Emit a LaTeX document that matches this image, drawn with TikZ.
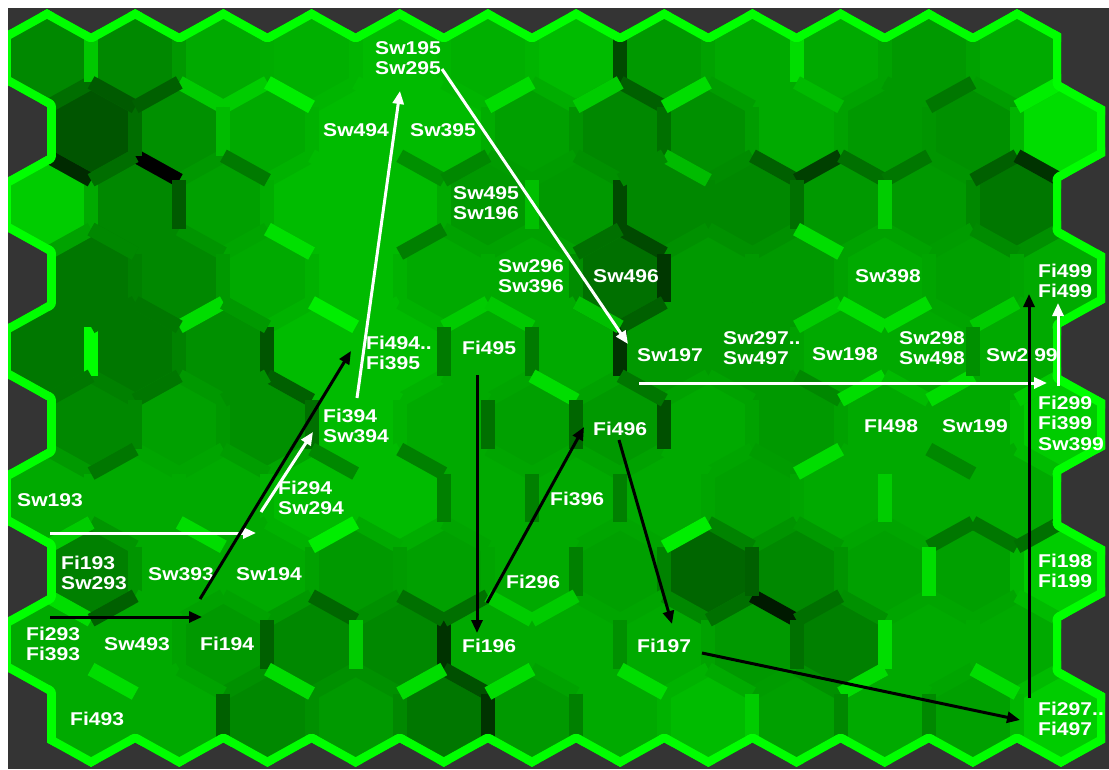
\documentclass[tikz,border=0pt]{standalone}
\usepackage{fontspec}
\setmainfont{Liberation Sans}
\newfontfamily\lblfont[FakeStretch=1.14]{Liberation Sans}
\usetikzlibrary{arrows.meta}
\newcommand\defg[1]{\definecolor{G#1}{HTML}{00#100}}
\defg{00}\defg{1A}\defg{2A}\defg{33}\defg{38}\defg{40}\defg{4A}\defg{50}\defg{55}\defg{5A}
\defg{60}\defg{66}\defg{6E}\defg{70}\defg{77}\defg{7A}\defg{80}\defg{88}\defg{90}\defg{99}
\defg{A0}\defg{AA}\defg{B0}\defg{BB}\defg{C0}\defg{C8}\defg{CC}\defg{DD}\defg{E0}\defg{EE}\defg{FF}
\definecolor{bggray}{HTML}{343434}
\newcommand\setrow[2]{\foreach \cv [count=\ci from 0] in {#2}{\expandafter\xdef\csname cc#1-\ci\endcsname{\cv}}}
\setrow{1}{G88,G88,GAA,GB0,GBB,GB0,GBB,G99,GAA,GAA,G99,GAA}
\setrow{2}{G55,G90,GAA,GBB,GBB,GA0,G88,G90,GAA,G99,G90,GDD}
\setrow{3}{GCC,G88,GA0,GBB,GBB,G99,G99,G88,G88,G99,G99,G77}
\setrow{4}{G77,G88,GAA,GBB,GAA,GAA,G70,G99,G99,GAA,GA0,GAA}
\setrow{5}{G77,G77,G90,GBB,GBB,GAA,GAA,G99,G99,GAA,GAA,GAA}
\setrow{6}{G88,GA0,G90,GBB,GAA,GA0,G99,GAA,G99,GAA,GAA,GCC}
\setrow{7}{GAA,GAA,GAA,GBB,GBB,GAA,GAA,GAA,GA0,GAA,GAA,GAA}
\setrow{8}{G80,GAA,GAA,G99,GA0,GAA,GA0,G66,G88,GA0,GA0,GCC}
\setrow{9}{GAA,GAA,G99,G88,G88,GAA,GAA,GAA,G99,G80,GAA,GAA}
\setrow{10}{GAA,GAA,G88,G99,G77,G99,GAA,GBB,GA0,GAA,GA0,GCC}
\tikzset{
  strip/.style={line width=14pt,line cap=butt},
  rim/.style={line width=17pt,draw=GFF,line cap=round},
  lab/.style={text=white,font=\lblfont\bfseries\fontsize{18.5}{20.5}\selectfont,align=left,anchor=west,inner sep=0pt},
  warr/.style={draw=white,line width=3pt,-{Triangle[length=13pt,width=11pt]}},
  barr/.style={draw=black,line width=3pt,-{Triangle[length=13pt,width=11pt]}}
}
\newcommand\cellpos{%
  \pgfmathsetmacro\cx{47+44.09*mod(\ri+1,2)+88.18*\ci}%
  \pgfmathsetmacro\cy{58+73.33*(\ri-1)}}
\newcommand\edgepath{({\cx+50.91*cos(90-60*\ki)},{\cy-48.9*sin(90-60*\ki)}) -- ({\cx+50.91*cos(30-60*\ki)},{\cy-48.9*sin(30-60*\ki)})}
\newcommand\hexpath{(\cx,\cy-48.9) -- (\cx+44.09,\cy-24.45) -- (\cx+44.09,\cy+24.45) -- (\cx,\cy+48.9) -- (\cx-44.09,\cy+24.45) -- (\cx-44.09,\cy-24.45) -- cycle}
\newcommand\celledges[1]{%
\foreach \ri in {1,...,10}{\foreach \ci in {0,...,11}{%
  \cellpos
  \pgfmathtruncatemacro\pp{mod(\ri+1,2)}%
  \foreach \ki in {0,...,5}{%
    \pgfmathtruncatemacro\nr{\ri+{-1,0,1,1,0,-1}[\ki]}%
    \pgfmathtruncatemacro\nj{\ci+{0,1,0,-1,-1,-1}[\ki]+\pp*{1,0,1,1,0,1}[\ki]}%
    \pgfmathtruncatemacro\ok{and(and(\nr>0,\nr<11),and(\nj>-1,\nj<12))}%
    \ifnum#1=1
      \ifnum\ok=1 \ifnum\ki>0 \ifnum\ki<4
        \edef\ca{\csname cc\ri-\ci\endcsname}\edef\cb{\csname cc\nr-\nj\endcsname}%
        \draw[strip,draw=\ca!50!\cb] \edgepath;
      \fi\fi\fi
    \else
      \ifnum\ok=0 \draw[rim] \edgepath; \fi
    \fi
  }}}}
% union of all cells as one path
\gdef\unionpath{}
\foreach \ri in {1,...,10}{\foreach \ci in {0,...,11}{%
  \cellpos
  \xdef\unionpath{\unionpath (\cx,\cy-48.9) -- (\cx+44.09,\cy-24.45) -- (\cx+44.09,\cy+24.45) -- (\cx,\cy+48.9) -- (\cx-44.09,\cy+24.45) -- (\cx-44.09,\cy-24.45) -- cycle }%
}}
\begin{document}
\begin{tikzpicture}[x=1pt,y=-1pt]
\useasboundingbox (0,0) rectangle (1109,769);
\fill[white] (0,0) rectangle (1109,769);
\fill[bggray] (8,8) rectangle (1109,769);
\begin{scope}
\clip (8,8) rectangle (1109,769);
\begin{scope}
\clip \unionpath;
% cells
\foreach \ri in {1,...,10}{\foreach \ci in {0,...,11}{%
  \cellpos
  \edef\ca{\csname cc\ri-\ci\endcsname}%
  \fill[fill=\ca] \hexpath;
}}
% default strips
\celledges{1}
% distinct strips
\foreach \ri/\ci/\ki/\cl in {
 2/1/3/00,2/0/3/2A,3/1/1/5A,2/1/0/CC,2/2/5/CC,2/2/0/EE,1/0/1/C8,2/0/1/6E,2/1/1/BB,2/2/3/7A,
 2/0/2/6E,2/0/0/5A,2/1/5/60,3/1/3/88,3/3/3/E0,
 1/6/1/4A,2/6/0/60,2/6/1/70,2/5/5/DD,2/6/5/CC,2/7/5/DD,2/4/3/90,2/4/2/88,3/4/2/80,3/5/1/C0,
 3/6/1/4A,4/6/0/4A,4/6/5/70,2/7/3/BB,2/6/2/88,
 1/8/1/DD,2/8/0/BB,2/10/5/77,2/11/5/EE,2/8/3/60,2/8/2/40,2/9/3/70,2/9/2/77,2/10/2/60,2/11/3/33,
 3/8/1/70,3/9/1/CC,3/9/3/DD,
 5/0/1/FF,5/2/5/DD,5/2/1/55,5/3/0/EE,5/3/3/60,5/1/2/77,5/0/2/77,4/0/2/77,4/1/3/77,4/2/3/99,
 5/2/2/90,6/2/1/70,6/0/1/88,6/0/2/77,6/3/3/88,
 4/6/1/38,5/6/1/33,4/6/2/60,4/6/3/C0,5/5/5/CC,5/5/0/C8,5/4/1/7A,5/5/1/7A,6/5/0/DD,6/4/1/70,
 6/5/1/66,6/6/1/50,6/4/3/80,7/4/1/80,7/5/1/80,7/6/1/80,6/6/0/77,
 4/8/2/CC,4/9/3/DD,4/9/2/DD,4/10/2/CC,5/9/3/88,5/9/2/DD,5/10/3/BB,5/10/2/DD,6/11/5/CC,6/10/3/88,
 6/8/2/DD,7/9/1/CC,5/10/1/90,
 8/0/3/DD,8/0/2/60,8/3/3/66,9/2/1/60,9/3/1/CC,9/1/3/DD,10/1/1/60,9/3/3/DD,8/0/5/CC,8/1/0/DD,8/3/5/EE,
 9/4/1/33,9/5/3/50,10/4/1/33,9/4/2/DD,9/5/2/DD,10/5/1/80,8/5/1/80,8/4/2/70,8/4/3/70,8/5/3/CC,
 8/5/2/CC,8/7/5/EE,9/6/1/90,9/7/3/DD,8/7/2/70,
 8/8/3/1A,8/8/2/70,8/10/5/77,8/10/0/77,8/11/5/70,9/8/1/70,9/9/1/DD,8/9/1/DD,9/9/2/DD,10/8/1/88,
 10/9/1/88,9/11/3/DD,10/7/1/CC,8/7/1/60}{%
  \cellpos
  \draw[strip,draw=G\cl] \edgepath;
}
% outer rim
\celledges{0}
\end{scope}
\end{scope}
% labels
\node[lab] (sw195) at (375,58) {Sw195\\Sw295};
\node[lab] (sw494) at (323,130) {Sw494};
\node[lab] (sw395) at (410,130) {Sw395};
\node[lab] (sw495) at (453,203) {Sw495\\Sw196};
\node[lab] (sw296) at (498,276) {Sw296\\Sw396};
\node[lab] (sw496) at (593,276) {Sw496};
\node[lab] (fi494) at (366,353) {Fi494..\\Fi395};
\node[lab] (fi495) at (462,348) {Fi495};
\node[lab] (sw197) at (637,355) {Sw197};
\node[lab] (sw297) at (723,348) {Sw297..\\Sw497};
\node[lab] (sw198) at (812,354) {Sw198};
\node[lab] (sw398) at (855,276) {Sw398};
\node[lab] (sw298) at (899,348) {Sw298\\Sw498};
\node[lab] (sw299) at (986,355) {Sw2 99};
\node[lab] (fi499) at (1038,281) {Fi499\\Fi499};
\node[lab] (fi299) at (1038,423) {Fi299\\Fi399\\Sw399};
\node[lab] (fi498) at (864,426) {FI498};
\node[lab] (sw199) at (942,426) {Sw199};
\node[lab] (fi394) at (323,426) {Fi394\\Sw394};
\node[lab] (fi496) at (593,429) {Fi496};
\node[lab] (fi396) at (550,499) {Fi396};
\node[lab] (sw193) at (17,500) {Sw193};
\node[lab] (fi294) at (278,498) {Fi294\\Sw294};
\node[lab] (fi193) at (61,573) {Fi193\\Sw293};
\node[lab] (sw393) at (148,574) {Sw393};
\node[lab] (sw194) at (236,574) {Sw194};
\node[lab] (fi296) at (506,582) {Fi296};
\node[lab] (fi293) at (26,644) {Fi293\\Fi393};
\node[lab] (sw493) at (104,644) {Sw493};
\node[lab] (fi194) at (200,644) {Fi194};
\node[lab] (fi196) at (462,646) {Fi196};
\node[lab] (fi197) at (637,646) {Fi197};
\node[lab] (fi493) at (70,719) {Fi493};
\node[lab] (fi198) at (1038,571) {Fi198\\Fi199};
\node[lab] (fi297) at (1038,719) {Fi297..\\Fi497};
% arrow end points
\coordinate (w1s) at (50,533);   \coordinate (w1e) at (256,533);
\coordinate (w2s) at (261,512);  \coordinate (w2e) at (313,432);
\coordinate (w3s) at (357,398);  \coordinate (w3e) at (400,91);
\coordinate (w4s) at (442,69);   \coordinate (w4e) at (628,344);
\coordinate (w5s) at (639,383);  \coordinate (w5e) at (1047,383);
\coordinate (w6s) at (1058,386); \coordinate (w6e) at (1058,303);
\coordinate (b1s) at (50,617);   \coordinate (b1e) at (202,617);
\coordinate (b2s) at (200,599);  \coordinate (b2e) at (351,351);
\coordinate (b3s) at (477,375);  \coordinate (b3e) at (477,633);
\coordinate (b4s) at (487,603);  \coordinate (b4e) at (584,427);
\coordinate (b5s) at (619,440);  \coordinate (b5e) at (672,624);
\coordinate (b6s) at (702,653);  \coordinate (b6e) at (1020,720);
\coordinate (b7s) at (1029,698); \coordinate (b7e) at (1029,294);
\draw[warr] (w1s) -- (w1e);
\draw[warr] (w2s) -- (w2e);
\draw[warr] (w3s) -- (w3e);
\draw[warr] (w4s) -- (w4e);
\draw[warr] (w5s) -- (w5e);
\draw[warr] (w6s) -- (w6e);
\draw[barr] (b1s) -- (b1e);
\draw[barr] (b2s) -- (b2e);
\draw[barr] (b3s) -- (b3e);
\draw[barr] (b4s) -- (b4e);
\draw[barr] (b5s) -- (b5e);
\draw[barr] (b6s) -- (b6e);
\draw[barr] (b7s) -- (b7e);
\end{tikzpicture}
\end{document}
